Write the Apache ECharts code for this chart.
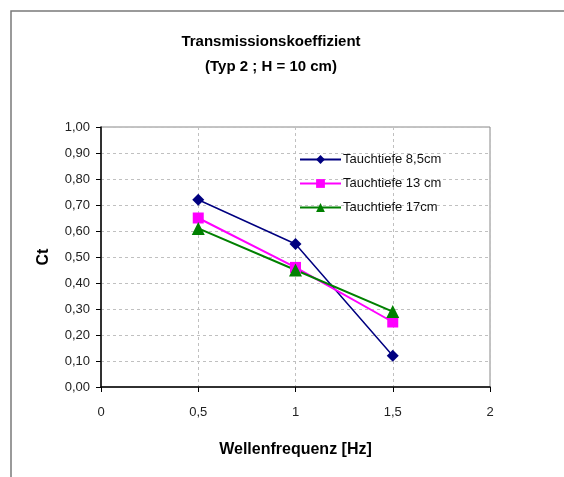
<!DOCTYPE html>
<html>
<head>
<meta charset="utf-8">
<script src="https://cdn.jsdelivr.net/npm/echarts@6/dist/echarts.min.js"></script>
<style>
  html, body { margin: 0; padding: 0; background: #fff; }
  #chart { width: 564px; height: 477px; }
</style>
</head>
<body>
<div id="chart"></div>
<script>
// Wave frequency [Hz] and transmission coefficient Ct per immersion depth
const frequencies = [0.5, 1, 1.5];
const ctDepth85 = [0.72, 0.55, 0.12];
const ctDepth13 = [0.65, 0.46, 0.25];
const ctDepth17 = [0.61, 0.45, 0.29];
const seriesNames = ['Tauchtiefe 8,5cm', 'Tauchtiefe 13 cm', 'Tauchtiefe 17cm'];

const pairs = (ys) => frequencies.map((x, i) => [x, ys[i]]);
const comma = (v, d) => v.toFixed(d).replace('.', ',');
const FONT = '"Liberation Sans", Arial, sans-serif';

const chart = echarts.init(document.getElementById('chart'), null, { renderer: 'canvas' });

chart.setOption({
  backgroundColor: '#ffffff',
  animation: false,
  title: {
    text: 'Transmissionskoeffizient\n(Typ 2 ; H = 10 cm)',
    left: 266,
    top: 24,
    textAlign: 'center',
    textStyle: { fontFamily: FONT, fontSize: 15, fontWeight: 'bold', color: '#000', lineHeight: 25 }
  },
  legend: {
    orient: 'vertical',
    left: 294,
    top: 148,
    itemWidth: 41,
    itemHeight: 11,
    itemGap: 11,
    textStyle: { fontFamily: FONT, fontSize: 13, color: '#111', padding: [0, 0, 0, -3] },
    data: seriesNames
  },
  grid: { left: 101, right: 74, top: 127, bottom: 90, show: true, borderColor: '#888', borderWidth: 1 },
  xAxis: {
    type: 'value',
    min: 0, max: 2, interval: 0.5,
    name: 'Wellenfrequenz [Hz]',
    nameLocation: 'middle',
    nameGap: 55,
    nameTextStyle: { fontFamily: FONT, fontSize: 16, fontWeight: 'bold', color: '#000', verticalAlign: 'top' },
    axisLine: { onZero: false, lineStyle: { color: '#000', width: 1.5 } },
    axisTick: { show: true, length: 5, lineStyle: { color: '#000' } },
    axisLabel: { margin: 19, fontFamily: FONT, fontSize: 13, color: '#222', formatter: (v) => comma(v, v % 1 === 0 ? 0 : 1) },
    splitLine: { show: true, lineStyle: { color: '#c0c0c0', type: [3, 3], width: 1 } }
  },
  yAxis: {
    type: 'value',
    min: 0, max: 1, interval: 0.1,
    name: 'Ct',
    nameLocation: 'middle',
    nameRotate: 90,
    nameGap: 49,
    nameTextStyle: { fontFamily: FONT, fontSize: 16, fontWeight: 'bold', color: '#000' },
    axisLine: { show: true, lineStyle: { color: '#000', width: 1.5 } },
    axisTick: { show: true, length: 5, lineStyle: { color: '#000' } },
    axisLabel: { margin: 11, fontFamily: FONT, fontSize: 13, color: '#222', formatter: (v) => comma(v, 2) },
    splitLine: { show: true, lineStyle: { color: '#c0c0c0', type: [3, 3], width: 1 } }
  },
  series: [
    {
      name: seriesNames[0], type: 'line', data: pairs(ctDepth85),
      symbol: 'diamond', symbolSize: 12,
      lineStyle: { color: '#000080', width: 1.5 },
      itemStyle: { color: '#000080' }
    },
    {
      name: seriesNames[1], type: 'line', data: pairs(ctDepth13),
      symbol: 'rect', symbolSize: 11,
      lineStyle: { color: '#ff00ff', width: 2 },
      itemStyle: { color: '#ff00ff' }
    },
    {
      name: seriesNames[2], type: 'line', data: pairs(ctDepth17),
      symbol: 'triangle', symbolSize: 13,
      lineStyle: { color: '#008000', width: 2 },
      itemStyle: { color: '#008000' }
    }
  ],
  graphic: [
    {
      type: 'rect',
      shape: { x: 11, y: 11, width: 600, height: 500 },
      style: { fill: null, stroke: '#7a7a7a', lineWidth: 1.5 },
      silent: true
    }
  ]
});
</script>
</body>
</html>
